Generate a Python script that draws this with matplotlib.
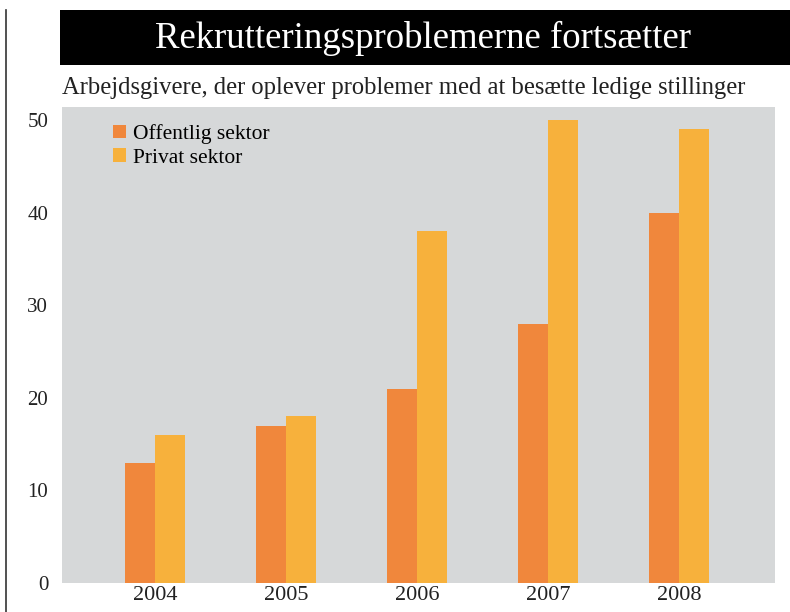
import matplotlib.pyplot as plt
import numpy as np
from matplotlib.patches import Rectangle, Patch
from matplotlib.lines import Line2D

years = ["2004", "2005", "2006", "2007", "2008"]
offentlig = [13, 17, 21, 28, 40]
privat = [16, 18, 38, 50, 49]
yticks = [0, 10, 20, 30, 40, 50]

title = "Rekrutteringsproblemerne fortsætter"
subtitle = "Arbejdsgivere, der oplever problemer med at besætte ledige stillinger"

c_off = "#F0873C"
c_priv = "#F7B13C"
c_bg = "#D6D8D9"

plt.rcParams['font.family'] = ['Liberation Serif', 'DejaVu Serif']

fig = plt.figure(figsize=(7.9, 6.12), dpi=100)
fig.patch.set_facecolor("white")

# black title bar
fig.patches.append(Rectangle((0.076, 0.894), 0.924, 0.09, transform=fig.transFigure,
                             facecolor="black", edgecolor="none", zorder=0))
fig.text(0.536, 0.937, title, color="white", fontsize=26.5, ha="center", va="center")
fig.text(0.079, 0.857, subtitle, color="#222222", fontsize=17.7, ha="left", va="center")

# thin line on the left edge
fig.lines.append(Line2D([0.008, 0.008], [0.0, 0.984], transform=fig.transFigure,
                        color="#333333", linewidth=1.2))

ax = fig.add_axes([0.0785, 0.0474, 0.9025, 0.7776])
ax.set_facecolor(c_bg)

x = np.arange(len(years))
w = 0.23
ax.bar(x - w / 2, offentlig, w, color=c_off, zorder=2)
ax.bar(x + w / 2, privat, w, color=c_priv, zorder=2)

ax.set_xlim(-0.71, 4.73)
ax.set_ylim(0, 51.4)
ax.set_xticks(x)
ax.set_xticklabels(years, fontsize=16)
ax.set_yticks(yticks)
ax.set_yticklabels([str(v) for v in yticks], fontsize=15)
ax.tick_params(length=0, colors="#222222")
ax.tick_params(axis="y", pad=10)
ax.tick_params(axis="x", pad=2)
for s in ax.spines.values():
    s.set_visible(False)

handles = [Patch(facecolor=c_off), Patch(facecolor=c_priv)]
ax.legend(handles, ["Offentlig sektor", "Privat sektor"], loc="upper left",
          bbox_to_anchor=(0.045, 1.005), frameon=False, fontsize=15.5,
          handlelength=0.6, handleheight=0.6, handletextpad=0.3, labelspacing=0.2)

fig.savefig("out.png", dpi=100)
